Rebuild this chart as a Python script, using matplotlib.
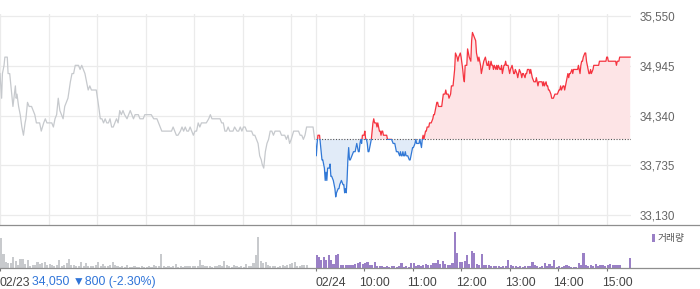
import numpy as np
import matplotlib
matplotlib.use("Agg")
import matplotlib.pyplot as plt
from matplotlib.patches import Rectangle
from matplotlib.lines import Line2D

plt.rcParams["font.family"] = ["Liberation Sans", "DejaVu Sans"]

# ---- data -------------------------------------------------------------
PREV_CLOSE = 34050
Y_TICKS = [33130, 33735, 34340, 34945, 35550]
DATE_LABELS = ["02/23", "02/24"]
HOUR_LABELS = ["10:00", "11:00", "12:00", "13:00", "14:00", "15:00"]
SUMMARY_TEXT = "34,050 \u25bc800 (-2.30%)"
VOLUME_LABEL = "거래량"

# 02/23 (minutes after 09:00, price)
day1_min = [0, 2, 3, 5, 6, 9, 10, 12, 14, 16, 19, 20, 21, 23, 25, 27, 29, 31, 32, 34,
            36, 39, 41, 43, 45, 49, 51, 54, 56, 58, 61, 64, 66, 68, 70, 72, 74, 76, 78, 80,
            82, 84, 87, 89, 91, 93, 95, 97, 99, 101, 103, 105, 107, 109, 111, 113, 117, 119, 122, 124,
            126, 128, 130, 132, 134, 136, 138, 140, 142, 144, 146, 148, 150, 152, 154, 157, 159, 161, 163, 165,
            167, 171, 173, 177, 179, 187, 190, 192, 194, 196, 198, 200, 202, 212, 214, 216, 218, 220, 223, 225,
            227, 229, 231, 233, 235, 237, 239, 241, 243, 245, 247, 249, 251, 253, 255, 258, 260, 262, 272, 274,
            276, 278, 280, 282, 284, 286, 288, 290, 293, 295, 297, 299, 301, 303, 305, 307, 309, 311, 313, 315,
            317, 319, 321, 323, 324, 326, 327, 328, 330, 332, 334, 336, 338, 340, 344, 346, 348, 350, 352, 354,
            356, 358, 360, 363, 365, 367, 369, 371, 373, 375, 377, 379, 387, 389]
day1_price = [34850, 34550, 34850, 34950, 35050, 35050, 34850, 34850, 34650, 34450, 34700, 34550, 34600, 34450, 34350, 34200, 34100, 34250, 34300, 34500,
              34450, 34450, 34400, 34350, 34250, 34250, 34150, 34250, 34300, 34250, 34250, 34250, 34200, 34300, 34350, 34550, 34400, 34350, 34300, 34450,
              34500, 34550, 34750, 34850, 34850, 34950, 34950, 34950, 34900, 34950, 34900, 34850, 34750, 34650, 34700, 34650, 34650, 34650, 34450, 34300,
              34300, 34250, 34300, 34250, 34250, 34300, 34200, 34200, 34250, 34300, 34250, 34400, 34350, 34400, 34350, 34300, 34350, 34400, 34350, 34300,
              34350, 34350, 34300, 34300, 34350, 34350, 34300, 34300, 34300, 34250, 34200, 34150, 34150, 34150, 34200, 34150, 34100, 34100, 34150, 34200,
              34150, 34200, 34150, 34150, 34200, 34150, 34100, 34150, 34150, 34250, 34200, 34250, 34250, 34250, 34250, 34300, 34350, 34300, 34300, 34250,
              34250, 34150, 34150, 34200, 34150, 34150, 34150, 34200, 34150, 34150, 34200, 34150, 34200, 34200, 34150, 34150, 34150, 34150, 34100, 34100,
              34050, 34000, 33850, 33800, 33750, 33700, 33800, 33900, 34000, 34050, 34150, 34150, 34100, 34150, 34150, 34150, 34100, 34100, 34100, 34050,
              34100, 34000, 34050, 34150, 34150, 34150, 34150, 34100, 34100, 34050, 34100, 34200, 34200, 34050]

# 02/24 (minutes after 09:00, price)
day2_min = [0, 1, 2, 3, 5, 6, 7, 8, 9, 10, 11, 12, 13, 14, 15, 17, 18, 19, 20, 22,
            24, 25, 26, 28, 29, 30, 32, 34, 35, 36, 37, 38, 39, 40, 41, 42, 43, 45, 47, 49,
            51, 52, 53, 54, 55, 56, 57, 58, 60, 61, 62, 63, 64, 65, 66, 67, 69, 70, 71, 72,
            73, 75, 76, 77, 78, 79, 80, 81, 82, 83, 84, 86, 88, 89, 92, 94, 96, 98, 99, 100,
            102, 104, 105, 106, 107, 108, 109, 110, 111, 112, 114, 116, 117, 118, 119, 120, 121, 123, 124, 125,
            127, 128, 129, 131, 132, 133, 134, 135, 136, 137, 138, 140, 141, 143, 145, 146, 147, 148, 149, 150,
            151, 152, 156, 158, 160, 161, 162, 164, 165, 167, 168, 170, 172, 173, 175, 176, 177, 179, 180, 182,
            183, 184, 185, 187, 188, 189, 190, 192, 193, 194, 196, 198, 199, 201, 202, 203, 204, 205, 207, 208,
            210, 211, 212, 213, 214, 215, 217, 218, 219, 220, 221, 223, 224, 225, 226, 228, 229, 230, 231, 233,
            234, 235, 236, 238, 239, 240, 241, 243, 244, 245, 246, 247, 249, 250, 251, 252, 254, 255, 256, 257,
            259, 260, 261, 262, 264, 265, 266, 267, 268, 270, 271, 272, 273, 275, 276, 277, 278, 280, 281, 282,
            283, 285, 286, 287, 288, 289, 291, 292, 293, 294, 296, 297, 298, 299, 301, 302, 303, 304, 306, 307,
            308, 309, 310, 312, 313, 314, 315, 317, 318, 319, 320, 322, 323, 324, 325, 327, 328, 329, 330, 331,
            333, 334, 335, 336, 338, 339, 340, 341, 343, 344, 345, 346, 348, 349, 350, 351, 352, 354, 355, 356,
            357, 359, 360, 361, 362, 364, 365, 366, 367, 369, 370, 371, 372, 373, 375, 376, 377, 389]
day2_price = [34000, 33850, 34000, 34100, 34100, 34000, 33900, 33800, 33800, 33750, 33700, 33550, 33650, 33550, 33700, 33700, 33750, 33600, 33600, 33550,
              33450, 33350, 33400, 33450, 33450, 33500, 33550, 33500, 33500, 33400, 33450, 33400, 33550, 33800, 33950, 33800, 33800, 33850, 33900, 33900,
              34000, 33950, 33900, 33900, 34000, 34050, 34000, 34100, 34100, 34150, 34050, 34050, 34000, 33900, 33900, 33950, 34050, 34150, 34250, 34300,
              34250, 34250, 34200, 34250, 34200, 34150, 34150, 34100, 34150, 34150, 34100, 34100, 34100, 34050, 34050, 34050, 34000, 34000, 33950, 33900,
              33900, 33850, 33900, 33850, 33850, 33900, 33850, 33850, 33900, 33850, 33850, 33800, 33800, 33850, 33900, 33950, 33950, 34000, 34050, 34000,
              34000, 34000, 34050, 33950, 34050, 34100, 34050, 34100, 34150, 34150, 34200, 34200, 34250, 34250, 34300, 34350, 34350, 34400, 34450, 34500,
              34500, 34450, 34450, 34600, 34600, 34650, 34600, 34600, 34550, 34600, 34700, 34700, 34900, 35100, 35050, 35000, 35050, 35100, 35050, 34900,
              34800, 34750, 34950, 34950, 35150, 35100, 35050, 35000, 35250, 35350, 35300, 35250, 35100, 35000, 35050, 35000, 34950, 34850, 34950, 35000,
              35050, 35000, 34950, 34950, 35000, 34900, 35000, 34950, 34950, 34900, 34950, 34900, 34950, 34900, 34950, 34900, 34900, 34950, 34850, 34950,
              34950, 35000, 34950, 34950, 34900, 34850, 34900, 34950, 34900, 34850, 34850, 34900, 34850, 34800, 34850, 34900, 34850, 34800, 34850, 34850,
              34800, 34850, 34850, 34900, 34900, 34850, 34900, 34850, 34800, 34750, 34750, 34750, 34800, 34700, 34750, 34750, 34750, 34750, 34700, 34750,
              34700, 34750, 34700, 34700, 34650, 34650, 34600, 34550, 34550, 34550, 34600, 34600, 34600, 34600, 34650, 34650, 34700, 34650, 34700, 34700,
              34650, 34700, 34750, 34850, 34800, 34850, 34850, 34900, 34850, 34900, 34900, 34900, 34900, 34900, 34950, 34850, 34950, 35000, 35000, 35050,
              35100, 35100, 35000, 34950, 34850, 34850, 34900, 34850, 34900, 34950, 34950, 34950, 34950, 34950, 34950, 35000, 35000, 35000, 35000, 35000,
              35000, 35000, 35050, 35050, 35000, 35000, 35000, 35000, 35000, 35000, 35000, 35000, 34950, 35000, 35000, 35050, 35050, 35050]

# volume, thousand shares per 3-minute block
vol_day1 = [30, 14, 6, 5, 5, 11, 7, 3, 9, 9, 4, 8, 2, 3, 3, 6, 4, 5, 6, 3,
            4, 3, 2, 3, 8, 2, 3, 5, 9, 3, 3, 2, 2, 6, 2, 5, 2, 2, 2, 3,
            6, 2, 4, 2, 2, 3, 6, 3, 2, 1, 2, 1, 3, 1, 1, 2, 1, 1, 2, 1,
            1, 2, 1, 3, 2, 2, 14, 2, 1, 2, 1, 2, 4, 1, 2, 1, 2, 2, 2, 2,
            2, 2, 8, 3, 2, 2, 2, 1, 2, 2, 3, 2, 7, 3, 2, 1, 3, 2, 1, 2,
            1, 4, 2, 2, 5, 13, 31, 7, 5, 6, 3, 2, 2, 2, 1, 2, 3, 2, 3, 4,
            5, 6, 2, 2, 3, 3, 3, 0, 0, 0]
vol_day2 = [13, 11, 8, 11, 8, 13, 8, 4, 13, 14, 3, 3, 3, 3, 3, 3, 4, 5, 6, 4,
            5, 6, 3, 3, 6, 2, 2, 2, 1, 2, 1, 2, 2, 1, 2, 5, 1, 2, 1, 5,
            5, 2, 3, 2, 3, 4, 3, 3, 5, 5, 8, 4, 7, 4, 3, 3, 5, 36, 15, 6,
            6, 7, 13, 4, 17, 15, 4, 3, 14, 3, 3, 3, 2, 2, 2, 2, 1, 2, 2, 8,
            3, 2, 2, 1, 2, 1, 2, 2, 2, 6, 3, 2, 1, 2, 5, 2, 4, 2, 8, 1,
            2, 1, 2, 3, 2, 1, 1, 1, 5, 3, 15, 3, 2, 3, 2, 4, 2, 3, 3, 2,
            3, 4, 3, 3, 3, 3, 0, 0, 0, 10]

# ---- layout (pixels) --------------------------------------------------
W, H = 700, 289
PLOT_W = 631
DAY = 390
TOTAL = 2 * DAY

RED = "#f5333f"
BLUE = "#3178d6"
GRAY_LINE = "#c6c9cd"
GRID = "#ebebeb"


def px_to_fig(x, y):
    return x / W, 1 - y / H


def main():
    fig = plt.figure(figsize=(W / 100, H / 100), dpi=100)

    # price panel: gridline 35550 at y=16px, 33130 at y=215px, axis bottom at 225px
    per_px = (Y_TICKS[-1] - Y_TICKS[0]) / (215 - 16)
    ax = fig.add_axes([0, 1 - 225 / H, PLOT_W / W, (225 - 14) / H])
    ax.set_xlim(0, TOTAL)
    ax.set_ylim(Y_TICKS[0] - 10 * per_px, Y_TICKS[-1] + 2 * per_px)
    for s in ax.spines.values():
        s.set_visible(False)

    for v in Y_TICKS:
        ax.axhline(v, color=GRID, lw=0.9, zorder=0)
    for m in list(range(0, DAY, 60)) + list(range(DAY, TOTAL, 60)):
        ax.axvline(m, color=GRID, lw=0.9, zorder=0)

    ax.set_xticks([])
    ax.yaxis.tick_right()
    ax.set_yticks(Y_TICKS)
    ax.set_yticklabels([f"{v:,}" for v in Y_TICKS])
    ax.tick_params(axis="y", length=0, pad=6.5, labelsize=8.4, labelcolor="#666666")

    # previous day
    ax.plot(day1_min, day1_price, color=GRAY_LINE, lw=0.9, zorder=3)

    # today
    x2 = np.array(day2_min) + DAY
    p2 = np.array(day2_price)
    ax.fill_between(x2, p2, PREV_CLOSE, where=p2 >= PREV_CLOSE, interpolate=True,
                    color="#fde4e6", lw=0, zorder=1)
    ax.fill_between(x2, p2, PREV_CLOSE, where=p2 <= PREV_CLOSE, interpolate=True,
                    color="#e1ebf8", lw=0, zorder=1)
    ax.hlines(PREV_CLOSE, DAY, TOTAL, colors="#555555", linestyles=(0, (1, 1.5)), lw=0.8, zorder=2)

    up, = ax.plot(x2, p2, color=RED, lw=0.9, zorder=4)
    dn, = ax.plot(x2, p2, color=BLUE, lw=0.9, zorder=4)
    up.set_clip_path(Rectangle((DAY, PREV_CLOSE), DAY + 10, 5000, transform=ax.transData))
    dn.set_clip_path(Rectangle((DAY, PREV_CLOSE - 5000), DAY + 10, 5000, transform=ax.transData))

    # volume panel
    axv = fig.add_axes([0, 1 - 268 / H, PLOT_W / W, (268 - 226) / H])
    axv.set_xlim(0, TOTAL)
    axv.set_ylim(0, 42)
    for s in axv.spines.values():
        s.set_visible(False)
    axv.set_yticks([])
    b1 = np.arange(len(vol_day1)) * 3
    b2 = np.arange(len(vol_day2)) * 3 + DAY
    axv.bar(b1, vol_day1, width=2.6, align="edge", color="#c8cacd", lw=0)
    axv.bar(b2, vol_day2, width=2.6, align="edge", color="#9a80c6", lw=0)

    tick_pos = [0, DAY] + [DAY + 60 * (i + 1) for i in range(len(HOUR_LABELS))]
    axv.set_xticks(tick_pos)
    axv.tick_params(axis="x", length=2.3, width=0.8, color="#777777", labelbottom=False)

    # separators spanning the whole width
    for y in (225, 268):
        fy = 1 - y / H
        fig.add_artist(Line2D([0, 1], [fy, fy], transform=fig.transFigure,
                              color="#8e8e8e", lw=0.9))

    # volume legend
    lx, ly = px_to_fig(652, 242)
    fig.add_artist(Rectangle((lx, ly), 3 / W, 8 / H, transform=fig.transFigure,
                             color="#9a80c6", lw=0))
    tx, ty = px_to_fig(658, 238)
    fig.text(tx, ty, VOLUME_LABEL, family=["Noto Sans CJK KR", "DejaVu Sans"],
             fontsize=7, color="#555555", va="center", ha="left")

    # bottom labels
    scale = PLOT_W / TOTAL
    ty = 1 - 282.5 / H
    fig.text(0, ty, DATE_LABELS[0], fontsize=8.8, color="#444444", va="center", ha="left")
    fig.text(32 / W, ty, SUMMARY_TEXT, fontsize=8.8, color="#2f74d8", va="center", ha="left")
    fig.text(DAY * scale / W, ty, DATE_LABELS[1], fontsize=8.8, color="#444444",
             va="center", ha="left")
    for i, lab in enumerate(HOUR_LABELS):
        xm = DAY + 60 * (i + 1)
        fig.text((xm * scale - 5) / W, ty, lab, fontsize=8.8, color="#444444",
                 va="center", ha="left")

    fig.savefig("out.png", dpi=100)
    plt.close(fig)


if __name__ == "__main__":
    main()
